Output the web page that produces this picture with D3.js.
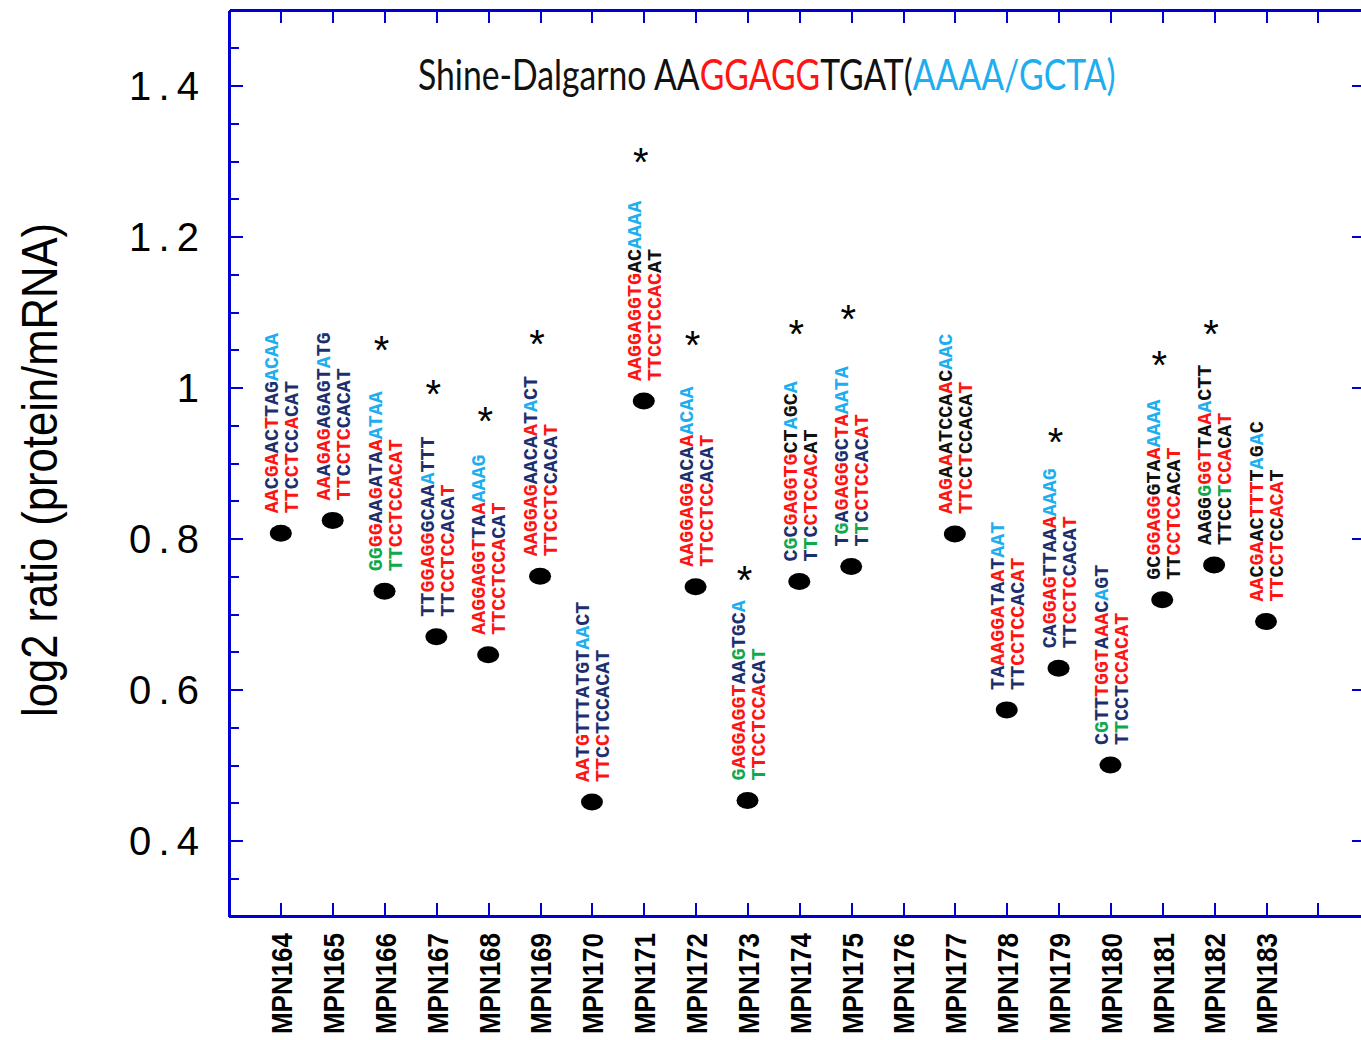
<!DOCTYPE html>
<html lang="en">
	<head>
		<meta charset="utf-8">
		<title>Shine-Dalgarno log2 ratio</title>
		<style type="text/css">
			body {
				margin: 0;
				background-color: white;
			}
			svg {
				display: block;
				background-color: white;
			}
			.axis path,
			.axis line {
				fill: none;
				stroke: #0000d4;
				shape-rendering: crispEdges;
			}
			.axis path {
				stroke-width: 3px;
			}
			.axis line {
				stroke-width: 2px;
			}
			.ylabels text {
				font-family: "Liberation Sans", Arial, sans-serif;
				font-size: 40px;
				fill: black;
			}
			.xlabels text {
				font-family: "Liberation Sans", Arial, sans-serif;
				font-size: 30px;
				font-weight: bold;
				fill: black;
			}
			.seq {
				font-family: "Liberation Mono", "Courier New", monospace;
				font-size: 20px;
				font-weight: bold;
			}
			.star {
				font-family: "Liberation Sans", Arial, sans-serif;
				font-size: 40px;
				fill: black;
			}
		</style>
	</head>
	<body>
	<script type="text/javascript" src="https://cdnjs.cloudflare.com/ajax/libs/d3/7.8.5/d3.min.js"></script>
	<script type="text/javascript">

		// genes along the x axis (MPN176 has no value)
		var categories = ["MPN164", "MPN165", "MPN166", "MPN167", "MPN168", "MPN169", "MPN170",
			"MPN171", "MPN172", "MPN173", "MPN174", "MPN175", "MPN176", "MPN177", "MPN178",
			"MPN179", "MPN180", "MPN181", "MPN182", "MPN183"];

		var ratios = [0.807, 0.824, 0.730, 0.670, 0.646, 0.750, 0.451, 0.982, 0.736, 0.453,
			0.743, 0.763, null, 0.806, 0.573, 0.628, 0.500, 0.719, 0.765, 0.690];

		// upstream sequence of each gene, and pairing code of each base
		// r = pairs, n = no pair, g = wobble, b = matches AAAA/GCTA, k = other
		var topSeqs = ["AACGAACTTAGACAA", "AAAGAGAGAGTATG", "GGGGAAGATAAATAA", "TTGGAGGGCAAATTT",
			"AAGGAGGTTAAAAAG", "AAGGAGAACAATACT", "AATGTTTATGTAACT", "AAGGAGGTGACAAAA",
			"AAGGAGGACAAACAA", "GAGGAGGTAAGTGCA", "CGCGAGGTGCTAGCA", "TGAGAGGGCTAAATA", null,
			"AAGAAATCCAACAAC", "TAAAGGATAATAAT", "CAGGAGTTAAAAAAG", "CGTTTGGTAAACAGT",
			"GCGGAGGGTAAAAAA", "AAGGGGGTTAAACTT", "AACGAACTTTTAGAC"];

		var topCodes = ["rrnrrnnrnnnbbbb", "rrnrrrnnnnnbnn", "ggrrnnrnnnrbbbb", "nnrrrrrnnnnbnnn",
			"rrrrrrrrnnrbbbb", "rrrrrrnnnnrnbnn", "rrnrnnnnnnnbbnn", "rrrrrrrrrkkbbbb",
			"rrrrrrrnnnrbbbb", "grrrrrrrnngnnnb", "ngnrrrrrrkkbkkb", "ngnrrrrnnrrbbbb", null,
			"rrrkrkkkkkrkbbb", "nnrrrrrnnrnbbb", "nnrrrrnnnnrbbbb", "ngnnrrrrnrrnbnn",
			"kkrrrrrkkkrbbbb", "kkkkgrrrkkrbkkk", "rrkrrkkrrrkbkbk"];

		// 16S rRNA 3' end, same for every gene
		var bottomSeqs = ["TTCCTCCACAT", "TTCCTCCACAT", "TTCCTCCACAT", "TTCCTCCACAT",
			"TTCCTCCACAT", "TTCCTCCACAT", "TTCCTCCACAT", "TTCCTCCACAT", "TTCCTCCACAT",
			"TTCCTCCACAT", "TTCCTCCACAT", "TTCCTCCACAT", null, "TTCCTCCACAT", "TTCCTCCACAT",
			"TTCCTCCACAT", "TTCCTCCACAT", "TTCCTCCACAT", "TTCCTCCACAT", "TTCCTCCACAT"];

		var bottomCodes = ["rrnrrnnrnnn", "rrnrrrnnnnn", "ggrrrrrrrrr", "nnrrrrrnnnr",
			"rrrrrrrrnnr", "rrrrrrnnnnr", "rrnrnnnnnnn", "rrrrrrrrrkk", "rrrrrrrnnnr",
			"grrrrrrrnng", "ngnrrrrrrkk", "ngnrrrrnnrr", null, "rrrkrkkkkkr", "nnrrrrrnnrr",
			"nnrrrrnnnnr", "ngnnnrrrrrr", "kkrrrrrkkkr", "kkkkgrrrkkr", "rrkrrkkrrrk"];

		// significant genes and the level their asterisk sits at
		var starCats = ["MPN166", "MPN167", "MPN168", "MPN169", "MPN171", "MPN172",
			"MPN173", "MPN174", "MPN175", "MPN179", "MPN181", "MPN182"];
		var starLevels = [1.063, 1.005, 0.969, 1.071, 1.312, 1.070,
			0.758, 1.084, 1.104, 0.941, 1.043, 1.084];

		var yMajor = [0.4, 0.6, 0.8, 1.0, 1.2, 1.4];
		var yMajorLabels = ["0.4", "0.6", "0.8", "1", "1.2", "1.4"];
		var yMinor = [0.3, 0.35, 0.4, 0.45, 0.5, 0.55, 0.6, 0.65, 0.7, 0.75, 0.8, 0.85, 0.9,
			0.95, 1.0, 1.05, 1.1, 1.15, 1.2, 1.25, 1.3, 1.35, 1.4, 1.45, 1.5];

		var titleParts = [
			{ text: "Shine-Dalgarno AA", code: "k" },
			{ text: "GGAGG", code: "r" },
			{ text: "TGAT(", code: "k" },
			{ text: "AAAA/GCTA)", code: "b" }
		];

		var colors = { r: "#ff1414", n: "#1d2f6e", g: "#10a84c", b: "#1eaef0", k: "#111111" };

		var fullwidth = 1361;
		var fullheight = 1040;

		var plot = { left: 229, right: 1364, top: 10, bottom: 916 };

		var svg = d3.select("body")
			.append("svg")
			.attr("width", fullwidth)
			.attr("height", fullheight);

		var xScale = d3.scaleLinear()
			.domain([-1, 21])
			.range([plot.left, plot.left + 22 * 51.85]);

		var yScale = d3.scaleLinear()
			.domain([0.3, 1.5])
			.range([plot.bottom, plot.top]);

		var xTicks = d3.range(0, 21);

		// frame: top and bottom with ticks at every gene
		svg.append("g")
			.attr("class", "axis")
			.attr("transform", "translate(0," + plot.top + ")")
			.call(d3.axisTop(xScale).tickValues(xTicks).tickSizeInner(-13).tickSizeOuter(0).tickFormat(""));

		var xAxis = svg.append("g")
			.attr("class", "axis xlabels")
			.attr("transform", "translate(0," + plot.bottom + ")")
			.call(d3.axisBottom(xScale)
				.tickValues(xTicks)
				.tickSizeInner(-13)
				.tickSizeOuter(0)
				.tickPadding(0)
				.tickFormat(function(i) { return categories[i] || ""; }));

		xAxis.selectAll("text")
			.attr("transform", "translate(0,17) rotate(-90)")
			.attr("x", 0)
			.attr("y", 0)
			.attr("dy", "0.36em")
			.attr("text-anchor", "end")
			.attr("textLength", 101)
			.attr("lengthAdjust", "spacingAndGlyphs");

		// left axis: minor ticks then labelled major ticks
		svg.append("g")
			.attr("class", "axis")
			.attr("transform", "translate(" + plot.left + ",0)")
			.call(d3.axisLeft(yScale).tickValues(yMinor).tickSizeInner(-10).tickSizeOuter(0).tickFormat(""));

		var yAxis = svg.append("g")
			.attr("class", "axis ylabels")
			.attr("transform", "translate(" + plot.left + ",0)")
			.call(d3.axisLeft(yScale)
				.tickValues(yMajor)
				.tickSizeInner(-14)
				.tickSizeOuter(0)
				.tickPadding(30)
				.tickFormat(function(d, i) { return yMajorLabels[i]; }));

		yAxis.selectAll("text")
			.attr("dy", "0.36em")
			.each(function(d, i) {
				if (yMajorLabels[i].length > 1) {
					d3.select(this)
						.attr("textLength", 70)
						.attr("lengthAdjust", "spacing");
				}
			});

		// right side of the frame (just outside the picture)
		svg.append("g")
			.attr("class", "axis")
			.attr("transform", "translate(" + plot.right + ",0)")
			.call(d3.axisRight(yScale).tickValues(yMajor).tickSizeInner(-12).tickSizeOuter(0).tickFormat(""));

		// y axis title
		svg.append("text")
			.attr("transform", "translate(57," + 470 + ") rotate(-90)")
			.attr("text-anchor", "middle")
			.attr("textLength", 494)
			.attr("lengthAdjust", "spacingAndGlyphs")
			.style("font-family", "'Liberation Sans', Arial, sans-serif")
			.style("font-size", "50px")
			.text("log2 ratio (protein/mRNA)");

		// chart title: tall condensed look, squeezed to the original width
		var title = svg.append("text")
			.attr("x", 0)
			.attr("y", 0)
			.style("font-family", "Lato, 'Open Sans', sans-serif")
			.style("font-size", "42px");

		title.selectAll("tspan")
			.data(titleParts)
			.enter()
			.append("tspan")
			.attr("fill", function(d) { return colors[d.code]; })
			.text(function(d) { return d.text; });

		var natural = title.node().getComputedTextLength();
		title.attr("transform", "translate(418,90) scale(" + (697 / natural) + ",1)");

		var genes = categories.map(function(c, i) {
			return { name: c, index: i, ratio: ratios[i],
				top: topSeqs[i], topCode: topCodes[i],
				bottom: bottomSeqs[i], bottomCode: bottomCodes[i] };
		}).filter(function(d) { return d.ratio !== null; });

		// sequence labels, written upwards from just above each point
		function drawSeq(g, seq, code, dx) {
			var t = g.append("text")
				.attr("class", "seq")
				.attr("transform", "translate(" + dx + ",-20) rotate(-90)")
				.attr("dy", "0.36em");
			t.selectAll("tspan")
				.data(seq.split(""))
				.enter()
				.append("tspan")
				.attr("fill", function(ch, k) { return colors[code[k]]; })
				.text(function(ch) { return ch; });
		}

		var labelGroups = svg.selectAll("g.gene")
			.data(genes)
			.enter()
			.append("g")
			.attr("class", "gene")
			.attr("transform", function(d) {
				return "translate(" + xScale(d.index) + "," + yScale(d.ratio) + ")";
			});

		labelGroups.each(function(d) {
			var g = d3.select(this);
			drawSeq(g, d.top, d.topCode, -10);
			drawSeq(g, d.bottom, d.bottomCode, 10);
		});

		svg.selectAll("ellipse.dot")
			.data(genes)
			.enter()
			.append("ellipse")
			.attr("class", "dot")
			.attr("cx", function(d) { return xScale(d.index); })
			.attr("cy", function(d) { return yScale(d.ratio); })
			.attr("rx", 11)
			.attr("ry", 8.5)
			.attr("fill", "black");

		svg.selectAll("text.star")
			.data(starCats)
			.enter()
			.append("text")
			.attr("class", "star")
			.attr("text-anchor", "middle")
			.attr("x", function(d) { return xScale(categories.indexOf(d)) - 3; })
			.attr("y", function(d, i) { return yScale(starLevels[i]); })
			.attr("dy", "0.6em")
			.text("*");

	</script>
	</body>
</html>
